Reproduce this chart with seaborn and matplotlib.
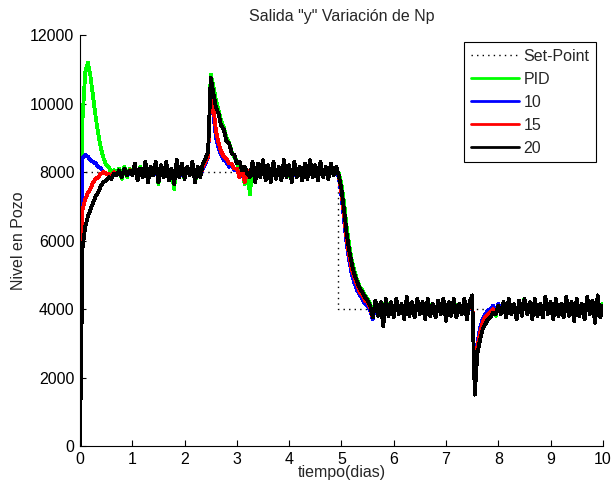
import numpy as np
import pandas as pd
import matplotlib
matplotlib.use("Agg")
import matplotlib.pyplot as plt
import seaborn as sns

# time grid (days), one sample every 0.05 d
tiempo = np.round(np.arange(201) * 0.05, 2)

# set-point steps from 8000 to 4000 just before day 5
sp_tiempo = [0.0, 4.93, 4.93, 10.0]
sp_valor = [8000, 8000, 4000, 4000]

pid = [
    0, 9600, 10900, 11200, 10800, 10200, 9600, 9100, 8700, 8400,
    8200, 8150, 7950, 8050, 7950, 8100, 7800, 8150, 7850, 8100,
    7900, 8200, 7800, 8150, 7850, 8250, 7750, 8100, 7900, 8300,
    7650, 8150, 7850, 8250, 7800, 8050, 7500, 8350, 7850, 8200,
    7800, 8100, 7900, 8250, 7700, 8100, 7850, 8200, 8250, 8450,
    10850, 10500, 10100, 9800, 9500, 9300, 9000, 8850, 8600, 8450,
    8300, 7900, 8050, 7650, 8000, 7350, 8250, 7750, 8200, 7900,
    8300, 7800, 8150, 7750, 8250, 7850, 8100, 7800, 8300, 7850,
    8150, 7750, 8250, 7900, 8100, 7800, 8200, 7850, 8300, 7900,
    8150, 7800, 8250, 7900, 8100, 7850, 8200, 7950, 8100, 7950,
    7650, 7100, 6400, 5850, 5400, 5100, 4850, 4650, 4550, 4400,
    4300, 4150, 3750, 4250, 3850, 4150, 3650, 4300, 3850, 4150,
    3800, 4250, 3900, 4100, 3750, 4350, 3850, 4150, 3800, 4250,
    3900, 4150, 3750, 4300, 3850, 4100, 3800, 4200, 3900, 4250,
    3700, 4150, 3850, 4300, 3800, 4100, 3900, 4250, 3750, 4150,
    4350, 1600, 2800, 3200, 3450, 3600, 3750, 3800, 3950, 3800,
    4100, 3850, 4150, 3800, 4250, 3900, 4100, 3750, 4200, 3850,
    4300, 3900, 4150, 3750, 4250, 3850, 4100, 3800, 4300, 3900,
    4150, 3750, 4250, 3850, 4100, 3800, 4350, 3850, 4150, 3700,
    4250, 3850, 4100, 3750, 4300, 3900, 4200, 3650, 4350, 3800,
    4150,
]

np10 = [
    0, 8400, 8500, 8450, 8350, 8300, 8250, 8150, 8100, 8000,
    7950, 7900, 7850, 8000, 7900, 8050, 7850, 8100, 7900, 8000,
    7950, 8100, 7800, 8100, 7900, 8150, 7800, 8050, 7900, 8200,
    7700, 8100, 7900, 8150, 7850, 8000, 7700, 8250, 7850, 8150,
    7850, 8050, 7900, 8150, 7750, 8050, 7900, 8100, 8250, 8450,
    10600, 9700, 9000, 8700, 8500, 8350, 8300, 8150, 8200, 8050,
    8100, 7850, 8050, 7700, 8000, 7850, 8150, 7800, 8100, 7900,
    8200, 7800, 8100, 7800, 8150, 7850, 8050, 7800, 8200, 7900,
    8100, 7750, 8150, 7900, 8050, 7800, 8100, 7900, 8200, 7900,
    8100, 7800, 8150, 7900, 8050, 7850, 8100, 7950, 8000, 7850,
    7300, 6600, 5900, 5400, 5000, 4750, 4550, 4400, 4300, 4150,
    4100, 3950, 3700, 4150, 3850, 4050, 3650, 4200, 3850, 4100,
    3800, 4150, 3900, 4050, 3750, 4250, 3850, 4100, 3800, 4150,
    3900, 4100, 3750, 4200, 3850, 4050, 3800, 4150, 3900, 4150,
    3700, 4100, 3850, 4200, 3800, 4050, 3900, 4150, 3750, 4100,
    4350, 1700, 3000, 3450, 3700, 3850, 3950, 4000, 4100, 3900,
    4150, 3900, 4150, 3850, 4200, 3950, 4100, 3800, 4150, 3900,
    4250, 3900, 4100, 3800, 4200, 3900, 4050, 3850, 4250, 3900,
    4100, 3800, 4200, 3900, 4050, 3850, 4300, 3900, 4100, 3750,
    4200, 3900, 4050, 3800, 4250, 3950, 4150, 3700, 4300, 3850,
    4100,
]

np15 = [
    0, 6900, 7200, 7400, 7500, 7700, 7800, 7850, 7950, 8000,
    7950, 7950, 7850, 8000, 7900, 8050, 7850, 8100, 7900, 8050,
    7950, 8150, 7850, 8100, 7900, 8200, 7800, 8050, 7950, 8250,
    7700, 8100, 7900, 8200, 7850, 8000, 7700, 8300, 7900, 8150,
    7850, 8050, 7950, 8200, 7750, 8050, 7900, 8150, 8300, 8450,
    10650, 9900, 9200, 8850, 8600, 8450, 8400, 8250, 8250, 8100,
    8100, 7850, 8100, 7700, 8050, 7900, 8200, 7800, 8150, 7950,
    8250, 7850, 8100, 7800, 8200, 7900, 8050, 7850, 8250, 7900,
    8100, 7800, 8200, 7950, 8050, 7850, 8150, 7900, 8250, 7950,
    8100, 7850, 8200, 7950, 8050, 7900, 8150, 8000, 8050, 7900,
    7400, 6750, 6050, 5550, 5150, 4900, 4700, 4500, 4400, 4250,
    4200, 4050, 3750, 4200, 3900, 4100, 3700, 4250, 3900, 4100,
    3850, 4200, 3950, 4050, 3800, 4300, 3900, 4100, 3850, 4200,
    3950, 4100, 3800, 4250, 3900, 4050, 3850, 4150, 3950, 4200,
    3750, 4100, 3900, 4250, 3850, 4050, 3950, 4200, 3800, 4100,
    4400, 1600, 2900, 3300, 3600, 3750, 3850, 3900, 4000, 3850,
    4100, 3900, 4100, 3850, 4200, 3950, 4050, 3800, 4150, 3900,
    4250, 3950, 4100, 3800, 4200, 3900, 4050, 3850, 4250, 3950,
    4100, 3800, 4200, 3900, 4050, 3850, 4300, 3900, 4100, 3750,
    4200, 3900, 4050, 3800, 4250, 3950, 4150, 3650, 4300, 3850,
    4050,
]

np20 = [
    0, 5800, 6400, 6700, 6900, 7100, 7300, 7400, 7600, 7700,
    7750, 7850, 7800, 7950, 7900, 8050, 7850, 8100, 7900, 8050,
    7900, 8250, 7750, 8100, 7850, 8300, 7700, 8150, 7900, 8300,
    7700, 8200, 7850, 8300, 7750, 8100, 7650, 8350, 7850, 8250,
    7800, 8150, 7900, 8300, 7700, 8150, 7850, 8250, 8400, 8600,
    10750, 10300, 9900, 9700, 9350, 9250, 8900, 8850, 8550, 8500,
    8250, 8300, 8050, 8150, 7950, 7850, 8300, 7700, 8250, 7850,
    8350, 7750, 8200, 7700, 8300, 7800, 8150, 7750, 8350, 7850,
    8200, 7700, 8300, 7850, 8150, 7750, 8250, 7800, 8350, 7850,
    8200, 7750, 8300, 7850, 8150, 7800, 8250, 7900, 8150, 7900,
    7500, 6900, 6200, 5700, 5300, 5000, 4800, 4600, 4500, 4350,
    4250, 4100, 3750, 4250, 3800, 4200, 3500, 4300, 3800, 4200,
    3750, 4300, 3850, 4150, 3700, 4350, 3800, 4200, 3750, 4300,
    3850, 4200, 3700, 4300, 3800, 4150, 3750, 4250, 3850, 4300,
    3650, 4200, 3800, 4300, 3750, 4150, 3850, 4300, 3700, 4200,
    4400, 1500, 2700, 3100, 3400, 3550, 3700, 3750, 3900, 3850,
    4100, 3850, 4200, 3750, 4300, 3850, 4150, 3700, 4250, 3800,
    4300, 3850, 4200, 3700, 4300, 3800, 4150, 3750, 4350, 3850,
    4200, 3700, 4300, 3800, 4150, 3750, 4350, 3800, 4200, 3650,
    4300, 3800, 4150, 3700, 4350, 3850, 4250, 3600, 4400, 3750,
    4100,
]

series = [("PID", pid, "#00ff00"), ("10", np10, "#0000ff"),
          ("15", np15, "#ff0000"), ("20", np20, "#000000")]

sns.set_style("white")
plt.rcParams["font.family"] = ["Liberation Sans", "DejaVu Sans"]

fig = plt.figure(figsize=(6.13, 4.91), dpi=100)
ax = fig.add_axes([0.1305, 0.0916, 0.853, 0.8371])

sns.lineplot(x=sp_tiempo, y=sp_valor, ax=ax, color="black",
             linestyle=(0, (1, 3)), linewidth=1.0, label="Set-Point",
             estimator=None, sort=False)
for name, vals, col in series:
    df = pd.DataFrame({"t": tiempo, "y": vals})
    sns.lineplot(data=df, x="t", y="y", ax=ax, color=col, linewidth=2.0,
                 label=name, estimator=None, sort=False, antialiased=False)

ax.set_xlim(0, 10)
ax.set_ylim(0, 12000)
ax.set_xticks(range(0, 11))
ax.set_yticks(range(0, 12001, 2000))
ax.tick_params(direction="in", length=4, width=0.8, labelsize=11.5,
               colors="black", left=True, bottom=True, pad=4)
for s in ["top", "right"]:
    ax.spines[s].set_visible(False)
for s in ["left", "bottom"]:
    ax.spines[s].set_color("black")
    ax.spines[s].set_linewidth(0.8)

ax.set_title('Salida "y" Variación de Np', fontsize=11.5, pad=10)
ax.set_xlabel("tiempo(dias)", fontsize=11.5, labelpad=-1)
ax.set_ylabel("Nivel en Pozo", fontsize=11.5, labelpad=3)

leg = ax.legend(loc="upper right", fontsize=11.5, frameon=True, fancybox=False,
                framealpha=1, edgecolor="black", handlelength=3,
                handletextpad=0.3, borderaxespad=0.45, labelspacing=0.5,
                borderpad=0.4)
leg.get_frame().set_linewidth(0.8)

fig.savefig("out.png", dpi=100)
